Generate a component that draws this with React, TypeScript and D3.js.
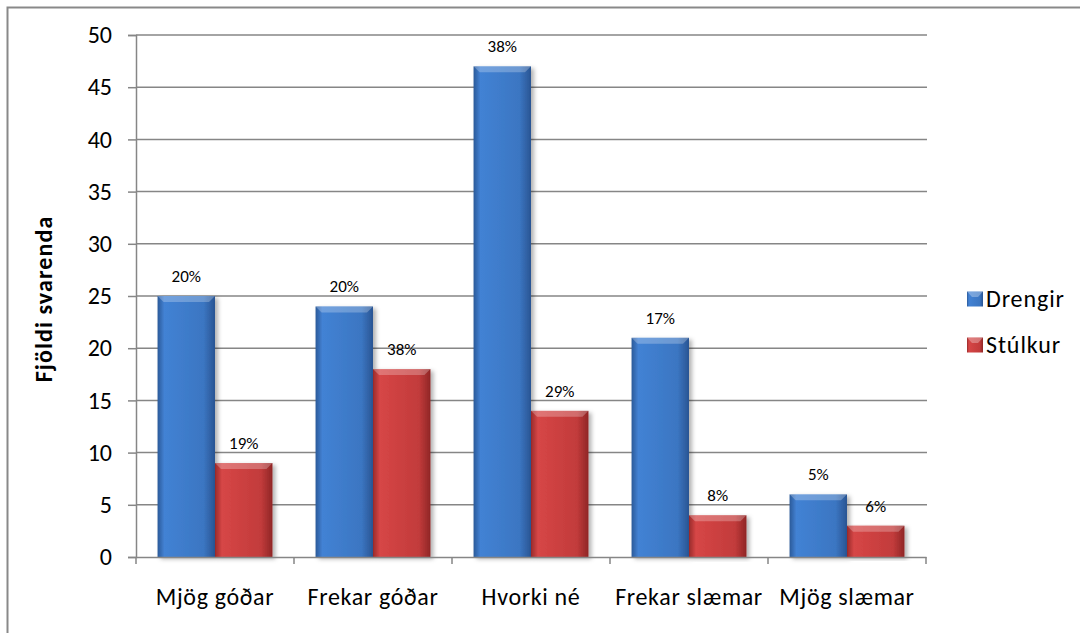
import React, { useEffect, useRef } from 'react';
import * as d3 from 'd3';

const categories = ['Mjög góðar', 'Frekar góðar', 'Hvorki né', 'Frekar slæmar', 'Mjög slæmar'];
const seriesNames = ['Drengir', 'Stúlkur'];
const drengir = [25, 24, 47, 21, 6];
const stulkur = [9, 18, 14, 4, 3];
const drengirPct = ['20%', '20%', '38%', '17%', '5%'];
const stulkurPct = ['19%', '38%', '29%', '8%', '6%'];
const yTicks = [0, 5, 10, 15, 20, 25, 30, 35, 40, 45, 50];

const FONT = "Carlito, Calibri, 'Open Sans', 'Noto Sans', sans-serif";

const App = () => {
  const svgRef = useRef<SVGSVGElement>(null);

  useEffect(() => {
    const w = 1080;
    const h = 633;
    const svg = d3.select(svgRef.current).attr('width', w).attr('height', h);
    svg.selectAll('*').remove();

    const left = 136, right = 926, top = 35, bottom = 557;

    const x = d3.scaleBand().domain(categories).range([left, right]).paddingInner(0).paddingOuter(0);
    const sub = d3.scaleBand().domain(seriesNames).range([0, x.bandwidth()]).paddingInner(0).paddingOuter(0.375);
    const y = d3.scaleLinear().domain([0, 50]).range([bottom, top]);

    const defs = svg.append('defs');
    const colors: Record<string, string[]> = {
      Drengir: ['#2c5a99', '#4282d4', '#3b76c2', '#2a5593'],
      'Stúlkur': ['#982a2a', '#d64646', '#c23b3b', '#8f2626'],
    };
    seriesNames.forEach((s, i) => {
      const g = defs.append('linearGradient').attr('id', 'grad' + i).attr('x1', '0').attr('x2', '1').attr('y1', '0').attr('y2', '0');
      g.append('stop').attr('offset', '0%').attr('stop-color', colors[s][0]);
      g.append('stop').attr('offset', '12%').attr('stop-color', colors[s][1]);
      g.append('stop').attr('offset', '80%').attr('stop-color', colors[s][2]);
      g.append('stop').attr('offset', '100%').attr('stop-color', colors[s][3]);
    });
    const shadow = defs.append('filter').attr('id', 'shadow').attr('x', '-20%').attr('y', '-5%').attr('width', '150%').attr('height', '115%');
    shadow.append('feDropShadow').attr('dx', 3).attr('dy', 2).attr('stdDeviation', 2).attr('flood-color', '#000').attr('flood-opacity', 0.3);

    // outer border
    svg.append('rect').attr('x', 7.5).attr('y', 7.5).attr('width', 1100).attr('height', 700)
      .attr('fill', 'white').attr('stroke', '#898989').attr('stroke-width', 2);

    // gridlines
    svg.append('g').selectAll('line').data(yTicks.filter((t) => t > 0)).join('line')
      .attr('x1', left).attr('x2', right + 1)
      .attr('y1', (d) => y(d)).attr('y2', (d) => y(d))
      .attr('stroke', '#868686').attr('stroke-width', 1.5);

    // y axis
    const yAxis = d3.axisLeft(y).tickValues(yTicks).tickSize(8).tickPadding(16);
    const ya = svg.append('g').attr('transform', `translate(${left},0)`).call(yAxis);
    ya.selectAll('line, path').attr('stroke', '#868686').attr('stroke-width', 1.5);
    ya.selectAll('text').attr('font-family', FONT).attr('font-size', 24).attr('fill', '#000');

    // bars
    const series = [
      { name: 'Drengir', values: drengir, labels: drengirPct },
      { name: 'Stúlkur', values: stulkur, labels: stulkurPct },
    ];
    series.forEach((s, si) => {
      const g = svg.append('g');
      const bw = sub.bandwidth();
      const data = categories.map((c, i) => ({ c, v: s.values[i], l: s.labels[i] }));
      g.selectAll('rect').data(data).join('rect')
        .attr('x', (d) => (x(d.c) as number) + (sub(s.name) as number))
        .attr('y', (d) => y(d.v))
        .attr('width', bw)
        .attr('height', (d) => bottom - y(d.v))
        .attr('fill', `url(#grad${si})`)
        .attr('filter', 'url(#shadow)');
      // top bevel
      g.selectAll('polygon').data(data).join('polygon')
        .attr('points', (d) => {
          const x0 = (x(d.c) as number) + (sub(s.name) as number);
          const yt = y(d.v);
          return `${x0},${yt} ${x0 + bw},${yt} ${x0 + bw - 6},${yt + 6} ${x0 + 6},${yt + 6}`;
        })
        .attr('fill', '#fff').attr('fill-opacity', 0.25);
      g.selectAll('text').data(data).join('text')
        .attr('x', (d) => (x(d.c) as number) + (sub(s.name) as number) + bw / 2)
        .attr('y', (d) => y(d.v) - 14)
        .attr('text-anchor', 'middle')
        .attr('font-family', FONT).attr('font-size', 17).attr('fill', '#000')
        .text((d) => d.l);
    });

    // x axis
    const xAxis = d3.axisBottom(x).tickSize(0).tickPadding(31);
    const xa = svg.append('g').attr('transform', `translate(0,${bottom})`).call(xAxis);
    xa.select('path').attr('stroke', '#868686').attr('stroke-width', 1.5);
    xa.selectAll('text').attr('font-family', FONT).attr('font-size', 24).attr('letter-spacing', 0.65).attr('fill', '#000');
    const edges = categories.map((c) => x(c) as number).concat([right]);
    xa.selectAll('.edge').data(edges).join('line').attr('class', 'edge')
      .attr('x1', (d) => d).attr('x2', (d) => d).attr('y1', 0).attr('y2', 7)
      .attr('stroke', '#868686').attr('stroke-width', 1.5);

    // y title
    svg.append('text')
      .attr('transform', `translate(44,${(top + bottom) / 2 + 3}) rotate(-90)`)
      .attr('text-anchor', 'middle')
      .attr('dy', '0.35em')
      .attr('font-family', FONT).attr('font-size', 24).attr('letter-spacing', 1.1).attr('font-weight', 'bold')
      .text('Fjöldi svarenda');

    // legend
    const lg = svg.append('g');
    seriesNames.forEach((s, i) => {
      const ly = 299 + i * 46;
      lg.append('rect').attr('x', 967).attr('y', ly - 7.5).attr('width', 16).attr('height', 15).attr('fill', `url(#grad${i})`);
      lg.append('polygon').attr('points', `967,${ly - 7.5} 983,${ly - 7.5} 978,${ly - 2} 972,${ly - 2}`).attr('fill', '#fff').attr('fill-opacity', 0.3);
      lg.append('text').attr('x', 986).attr('y', ly).attr('dy', '0.35em')
        .attr('font-family', FONT).attr('font-size', 24).attr('letter-spacing', 0.9).text(s);
    });
  }, []);

  return (
    <div style={{ position: 'absolute', left: 0, top: 0 }}>
      <svg ref={svgRef} style={{ display: 'block' }}></svg>
    </div>
  );
};

export default App;
